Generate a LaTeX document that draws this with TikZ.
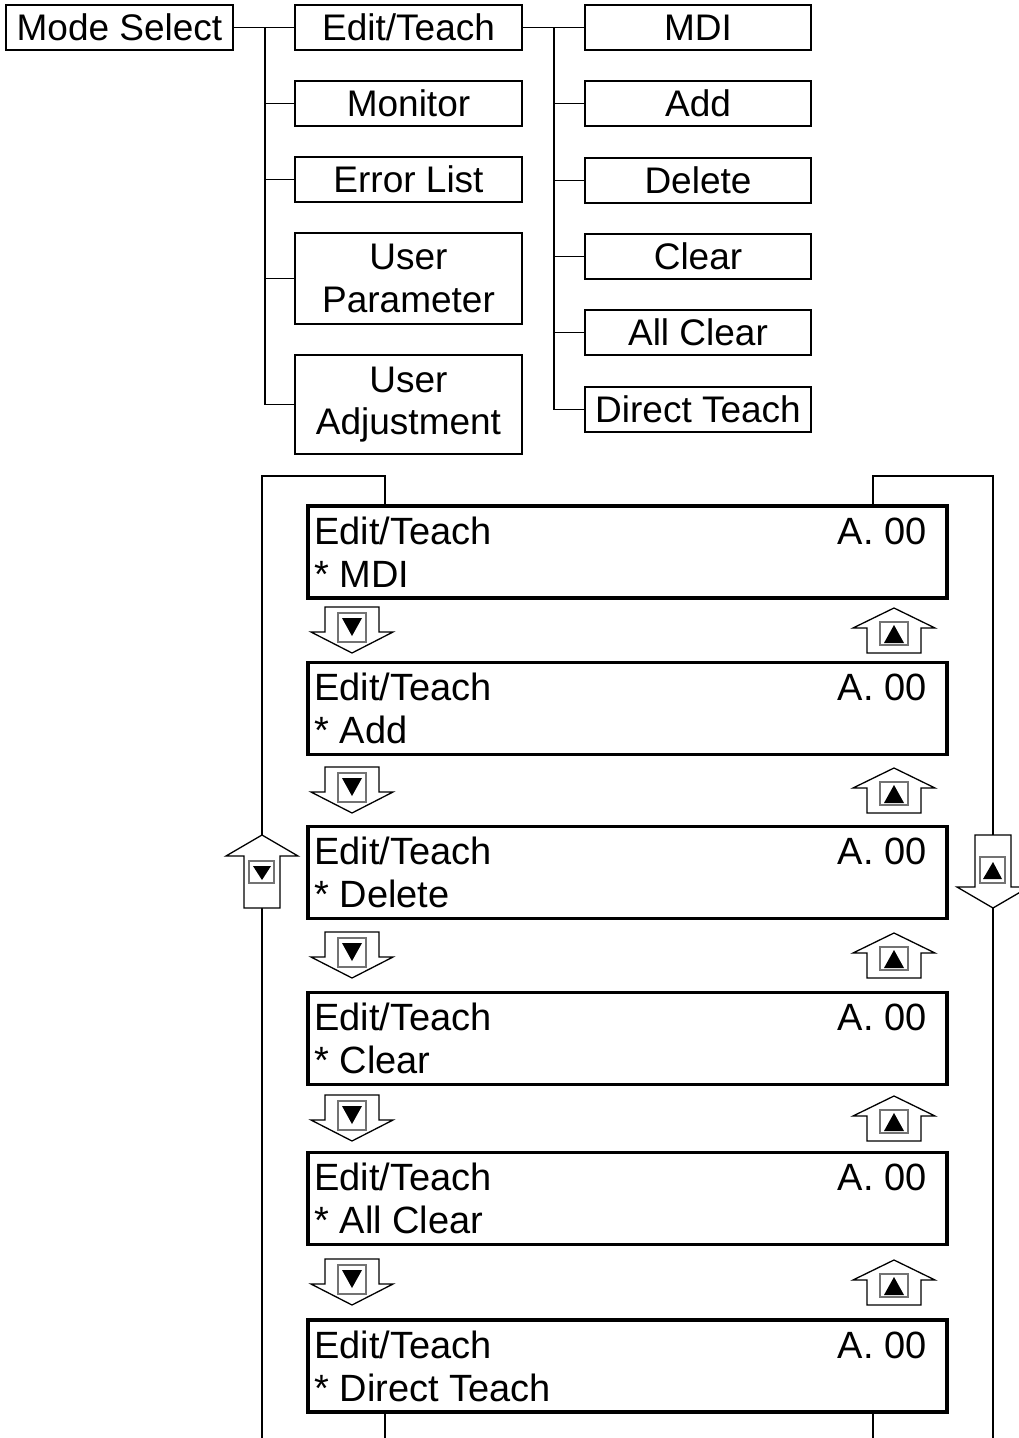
\documentclass[tikz,border=0pt]{standalone}
\usepackage{fontspec}
\setmainfont{Liberation Sans}
\usetikzlibrary{calc}
\tikzset{
  tbox/.style={draw, line width=1.8pt, minimum width=227pt, minimum height=45pt, inner sep=0pt, align=center},
  tline/.style={line width=1.8pt},
  screen/.style={draw, line width=3.6pt, minimum width=639pt, minimum height=92pt, inner sep=0pt},
  stext/.style={inner sep=0pt, font=\fontsize{38}{43}\selectfont},
  loopline/.style={line width=1.5pt},
  arrowline/.style={draw=black, fill=white, line width=1.3pt, line join=miter},
  btn/.style={draw=black!55, line width=1.8pt, fill=white},
}
\newcommand\smdown[2]{%
  \filldraw[arrowline] ({#1-27},#2) -- ({#1+27},#2) -- ({#1+27},{#2+25}) -- ({#1+41},{#2+25}) -- (#1,{#2+46}) -- ({#1-41},{#2+25}) -- ({#1-27},{#2+25}) -- cycle;
  \draw[btn] ({#1-14},{#2+6}) rectangle ({#1+14},{#2+35});
  \fill ({#1-10},{#2+11}) -- ({#1+10},{#2+11}) -- (#1,{#2+29}) -- cycle;
}
\newcommand\smup[2]{%
  \filldraw[arrowline] ({#1-27},#2) -- ({#1+27},#2) -- ({#1+27},{#2-25}) -- ({#1+41},{#2-25}) -- (#1,{#2-45}) -- ({#1-41},{#2-25}) -- ({#1-27},{#2-25}) -- cycle;
  \draw[btn] ({#1-14},{#2-8}) rectangle ({#1+14},{#2-31});
  \fill ({#1-10},{#2-10}) -- ({#1+10},{#2-10}) -- (#1,{#2-28}) -- cycle;
}
\newcommand\bigup[2]{%
  \filldraw[arrowline] (#1,#2) -- ({#1+36},{#2+21}) -- ({#1+18},{#2+21}) -- ({#1+18},{#2+73}) -- ({#1-18},{#2+73}) -- ({#1-18},{#2+21}) -- ({#1-36},{#2+21}) -- cycle;
  \draw[btn] ({#1-13},{#2+26}) rectangle ({#1+12},{#2+48});
  \fill ({#1-9},{#2+31}) -- ({#1+9},{#2+31}) -- (#1,{#2+45}) -- cycle;
}
\newcommand\bigdown[2]{%
  \filldraw[arrowline] ({#1-18},#2) -- ({#1+18},#2) -- ({#1+18},{#2+52}) -- ({#1+36},{#2+52}) -- (#1,{#2+73}) -- ({#1-36},{#2+52}) -- ({#1-18},{#2+52}) -- cycle;
  \draw[btn] ({#1-13},{#2+22}) rectangle ({#1+12},{#2+48});
  \fill ({#1-10},{#2+44}) -- ({#1+9},{#2+44}) -- (#1,{#2+27}) -- cycle;
}
\begin{document}
\begin{tikzpicture}[x=1pt, y=-1pt, font=\fontsize{37}{42.5}\selectfont]
\useasboundingbox (0,0) rectangle (1018,1438);

% ---- top tree ----
\node[tbox] (ms) at (119.5,27.5) {Mode Select};
\node[tbox] (et) at (408.5,27.5) {Edit/Teach};
\node[tbox] (mon) at (408.5,103.5) {Monitor};
\node[tbox] (el) at (408.5,179.5) {Error List};
\node[tbox, minimum height=91pt] (up) at (408.5,278.5) {User\\Parameter};
\node[tbox, minimum height=99pt] (ua) at (408.5,404.5) {User\\Adjustment};

\node[tbox, minimum width=226pt] (mdi) at (698,27.5) {MDI};
\node[tbox, minimum width=226pt] (add) at (698,103.5) {Add};
\node[tbox, minimum width=226pt] (del) at (698,180.5) {Delete};
\node[tbox, minimum width=226pt] (clr) at (698,256.5) {Clear};
\node[tbox, minimum width=226pt] (aclr) at (698,332.5) {All Clear};
\node[tbox, minimum width=226pt] (dt) at (698,409.5) {Direct Teach};

\coordinate (t1) at (265,0);
\coordinate (t2) at (554,0);
\draw[tline] (ms.east) -- (et.west);
\draw[tline] (t1 |- ms.east) -- (t1 |- ua.west);
\foreach \n in {mon,el,up,ua} \draw[tline] (t1 |- \n.west) -- (\n.west);
\draw[tline] (et.east) -- (mdi.west);
\draw[tline] (t2 |- et.east) -- (t2 |- dt.west);
\foreach \n in {add,del,clr,aclr,dt} \draw[tline] (t2 |- \n.west) -- (\n.west);

% ---- screens ----
\foreach \i/\yc/\txt in {1/552/MDI, 2/708.5/Add, 3/872.5/Delete, 4/1038.5/Clear, 5/1198.5/All Clear, 6/1366/Direct Teach}{
  \node[screen] (s\i) at (627.5,\yc) {};
  \node[stext, anchor=base west] (s\i a) at ($(s\i.north west)+(8,40)$) {Edit/Teach};
  \node[stext, anchor=base east] (s\i b) at ($(s\i.north east)+(-22,40)$) {A. 00};
  \node[stext, anchor=base west] (s\i c) at ($(s\i.north west)+(8,83)$) {* \txt};
}

% ---- loop connectors ----
\coordinate (Lx) at (385,0);
\coordinate (Rx) at (873,0);
\coordinate (ltop) at (0,476);
\coordinate (bot) at (0,1442);
\coordinate (lup) at (262,835);
\coordinate (lupb) at (262,908);
\coordinate (rdn) at (993,835);
\coordinate (rdnb) at (993,908);
\draw[loopline] (s1.north -| Lx) -- (Lx |- ltop) -- (lup |- ltop) -- (lup);
\draw[loopline] (lupb) -- (lupb |- bot);
\draw[loopline] (s1.north -| Rx) -- (Rx |- ltop) -- (rdn |- ltop) -- (rdn);
\draw[loopline] (rdnb) -- (rdnb |- bot);
\draw[loopline] (s6.south -| Lx) -- (Lx |- bot);
\draw[loopline] (s6.south -| Rx) -- (Rx |- bot);

% ---- arrows ----
\bigup{262}{835}
\bigdown{993}{835}
\foreach \t in {607,767,932,1095,1259} {\smdown{352}{\t}}
\foreach \b in {653,813,978,1141,1305} {\smup{894}{\b}}
\end{tikzpicture}
\end{document}
